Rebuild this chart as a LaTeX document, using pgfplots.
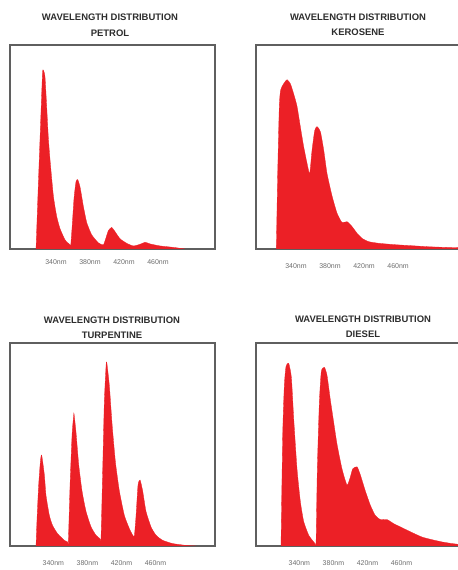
\documentclass[border=0pt]{standalone}
\usepackage{fontspec}
\setmainfont{Liberation Sans}
\usepackage{pgfplots}
\pgfplotsset{compat=1.18}
\definecolor{fuel}{RGB}{236,32,38}
\definecolor{frame}{RGB}{95,95,95}
\definecolor{ttl}{RGB}{45,45,45}
\definecolor{tlab}{RGB}{110,110,110}

% x in nm, y as share of the highest possible peak
\pgfplotstableread{
x y
316.6 0
319.0 0.28
322.0 0.62
324.2 0.86
325.2 0.877
327.1 0.845
329.1 0.70
331.0 0.55
333.0 0.44
337.0 0.26
340.9 0.16
344.8 0.10
350.7 0.045
356.6 0.02
357.3 0.012
358.9 0.10
361.3 0.25
363.6 0.33
365.6 0.34
368.3 0.305
372.2 0.21
376.2 0.13
382.0 0.07
389.9 0.03
395.7 0.02
397.7 0.04
401.6 0.09
403.6 0.10
405.6 0.106
409.5 0.085
415.4 0.05
423.2 0.028
431.0 0.015
438.9 0.023
444.8 0.033
450.6 0.025
462.4 0.015
478.1 0.008
491.8 0
}\petrol

\pgfplotstableread{
x y
316.9 0
318.5 0.37
320.4 0.70
322.0 0.78
325.5 0.81
329.5 0.83
333.4 0.81
337.3 0.76
341.2 0.70
345.1 0.60
349.1 0.50
353.0 0.42
356.1 0.37
358.9 0.485
362.0 0.58
364.7 0.60
368.7 0.575
372.6 0.485
376.5 0.37
382.4 0.26
388.3 0.175
394.1 0.13
400.0 0.134
405.9 0.11
411.8 0.077
417.7 0.052
425.5 0.036
437.3 0.028
456.9 0.021
476.5 0.016
496.1 0.011
515.7 0.008
535.3 0.006
545.0 0
}\kerosene

\pgfplotstableread{
x y
319.6 0
320.8 0.135
322.7 0.30
324.7 0.415
326.2 0.448
329.4 0.35
331.3 0.25
335.3 0.15
339.2 0.10
345.1 0.06
352.9 0.028
356.8 0.02
357.6 0.02
359.6 0.30
362.0 0.55
363.9 0.645
364.3 0.65
366.6 0.56
369.8 0.40
373.7 0.27
378.4 0.17
384.3 0.094
390.1 0.053
394.8 0.036
396.0 0.036
398.0 0.38
399.9 0.71
401.9 0.885
402.7 0.906
405.8 0.79
409.0 0.60
412.9 0.415
417.6 0.27
423.5 0.15
429.3 0.086
433.3 0.053
435.2 0.05
437.2 0.15
439.5 0.30
441.9 0.325
445.0 0.27
448.9 0.17
454.8 0.094
460.7 0.053
468.5 0.028
480.3 0.012
496.0 0.003
507.7 0
}\turpentine

\pgfplotstableread{
x y
318.4 0
320.4 0.55
322.3 0.79
324.3 0.885
327.4 0.90
330.6 0.83
333.3 0.63
337.2 0.38
341.1 0.22
345.1 0.12
351.0 0.053
356.8 0.02
358.8 0.01
359.6 0.01
361.1 0.38
363.5 0.71
365.8 0.86
369.4 0.88
372.5 0.84
376.4 0.72
380.3 0.61
384.3 0.50
390.1 0.38
396.0 0.30
399.9 0.34
402.7 0.38
407.8 0.39
411.7 0.35
417.6 0.27
423.5 0.20
429.3 0.15
435.2 0.13
443.1 0.13
450.9 0.11
460.7 0.09
472.5 0.066
484.2 0.044
496.0 0.031
507.7 0.02
519.5 0.012
531.3 0.006
540.0 0
}\diesel

\pgfplotsset{
  panel/.style={
    scale only axis, width=205bp, anchor=south west,
    ymin=0, ymax=1, ytick=\empty,
    xtick={340,380,420,460},
    xticklabels={340nm,380nm,420nm,460nm},
    major tick length=0pt,
    axis line style={draw=frame, line width=1.6bp},
    tick label style={font=\fontsize{7}{8}\selectfont, text=tlab},
    xticklabel style={anchor=center},
    clip=true,
  },
  spectrum/.style={fill=fuel, draw=fuel, line width=0.3bp, smooth, tension=0.35},
}

\begin{document}
\begin{tikzpicture}
\begin{axis}[panel, at={(10bp,321bp)}, height=204bp, xmin=286, xmax=527,
  xticklabel style={yshift=-13bp}]
  \addplot[spectrum] table {\petrol} \closedcycle;
\end{axis}
\begin{axis}[panel, at={(256bp,321bp)}, height=204bp, xmin=293, xmax=534,
  xticklabel style={yshift=-17bp}]
  \addplot[spectrum] table {\kerosene} \closedcycle;
\end{axis}
\begin{axis}[panel, at={(10bp,24bp)}, height=203bp, xmin=289, xmax=530,
  xticklabel style={yshift=-17bp}]
  \addplot[spectrum] table {\turpentine} \closedcycle;
\end{axis}
\begin{axis}[panel, at={(256bp,24bp)}, height=203bp, xmin=289, xmax=530,
  xticklabel style={yshift=-17bp}]
  \addplot[spectrum] table {\diesel} \closedcycle;
\end{axis}

\begin{scope}[every node/.style={font=\bfseries\fontsize{9.5}{11}\selectfont, text=ttl, inner sep=0pt}]
  \node at (110bp,553bp) {WAVELENGTH DISTRIBUTION};
  \node at (110bp,537bp) {PETROL};
  \node at (358bp,553bp) {WAVELENGTH DISTRIBUTION};
  \node at (358bp,538bp) {KEROSENE};
  \node at (112bp,250bp) {WAVELENGTH DISTRIBUTION};
  \node at (112bp,235bp) {TURPENTINE};
  \node at (363bp,251bp) {WAVELENGTH DISTRIBUTION};
  \node at (363bp,236bp) {DIESEL};
\end{scope}

\pgfresetboundingbox
\useasboundingbox (0,0) rectangle (458bp,570bp);
\end{tikzpicture}
\end{document}
